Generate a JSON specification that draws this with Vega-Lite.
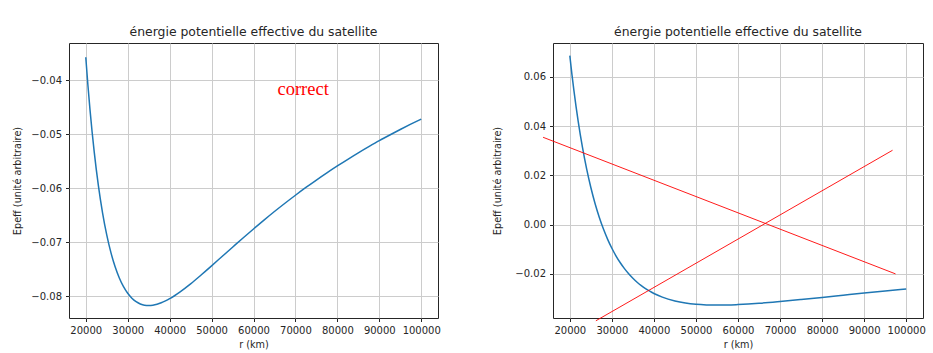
{
  "$schema": "https://vega.github.io/schema/vega-lite/v6.json",
  "background": "white",
  "padding": {"left": 12, "top": 25, "right": 5, "bottom": 0},
  "bounds": "flush",
  "spacing": 115,
  "config": {
    "font": "DejaVu Sans",
    "view": {"stroke": "#262626", "strokeWidth": 1},
    "title": {"font": "DejaVu Sans", "fontSize": 12.4, "fontWeight": "normal", "color": "#262626", "offset": 5},
    "axis": {
      "domain": false,
      "grid": true,
      "gridColor": "#cccccc",
      "gridWidth": 1,
      "tickColor": "#262626",
      "tickSize": 3.5,
      "labelFont": "DejaVu Sans",
      "labelFontSize": 10,
      "labelColor": "#262626",
      "labelPadding": 4,
      "titleFont": "DejaVu Sans",
      "titleFontSize": 9.7,
      "titleFontWeight": "normal",
      "titleColor": "#262626"
    }
  },
  "datasets": {
    "left": [
      {"r": 20000, "e": -0.03575}, {"r": 20500, "e": -0.04084}, {"r": 21000, "e": -0.04539},
      {"r": 21500, "e": -0.04949}, {"r": 22000, "e": -0.05317},
      {"r": 23000, "e": -0.05946}, {"r": 24000, "e": -0.06454}, {"r": 25000, "e": -0.06863},
      {"r": 26000, "e": -0.07191}, {"r": 27000, "e": -0.07453}, {"r": 28000, "e": -0.0766},
      {"r": 29000, "e": -0.07821}, {"r": 30000, "e": -0.07943}, {"r": 31000, "e": -0.08034},
      {"r": 32000, "e": -0.08099}, {"r": 33000, "e": -0.0814},
      {"r": 34000, "e": -0.08164}, {"r": 35000, "e": -0.0817}, {"r": 36000, "e": -0.08164},
      {"r": 37000, "e": -0.08146}, {"r": 38000, "e": -0.08119}, {"r": 39000, "e": -0.08084},
      {"r": 40000, "e": -0.08043}, {"r": 42500, "e": -0.07915}, {"r": 45000, "e": -0.07767},
      {"r": 47500, "e": -0.07604}, {"r": 50000, "e": -0.07435}, {"r": 52500, "e": -0.07262},
      {"r": 55000, "e": -0.0709}, {"r": 57500, "e": -0.06919}, {"r": 60000, "e": -0.06752},
      {"r": 62500, "e": -0.06588}, {"r": 65000, "e": -0.06429}, {"r": 67500, "e": -0.06276},
      {"r": 70000, "e": -0.06128}, {"r": 72500, "e": -0.05984}, {"r": 75000, "e": -0.05846},
      {"r": 77500, "e": -0.05713}, {"r": 80000, "e": -0.05585}, {"r": 82500, "e": -0.05462},
      {"r": 85000, "e": -0.05343}, {"r": 87500, "e": -0.05229}, {"r": 90000, "e": -0.05118},
      {"r": 92500, "e": -0.05013}, {"r": 95000, "e": -0.04911}, {"r": 97500, "e": -0.04813},
      {"r": 100000, "e": -0.04718}
    ],
    "right": [
      {"r": 20000, "e": 0.0686}, {"r": 20500, "e": 0.061}, {"r": 21000, "e": 0.05404},
      {"r": 21500, "e": 0.04766}, {"r": 22000, "e": 0.04179},
      {"r": 23000, "e": 0.03141}, {"r": 24000, "e": 0.02259}, {"r": 25000, "e": 0.01504},
      {"r": 26000, "e": 0.00857}, {"r": 27000, "e": 0.003}, {"r": 28000, "e": -0.00182},
      {"r": 29000, "e": -0.00598}, {"r": 30000, "e": -0.0096}, {"r": 31000, "e": -0.01275},
      {"r": 32000, "e": -0.01548}, {"r": 33000, "e": -0.01787},
      {"r": 34000, "e": -0.01996}, {"r": 35000, "e": -0.02178}, {"r": 36000, "e": -0.02337},
      {"r": 37000, "e": -0.02476}, {"r": 38000, "e": -0.02597}, {"r": 39000, "e": -0.02703},
      {"r": 40000, "e": -0.02795}, {"r": 42000, "e": -0.02944}, {"r": 45000, "e": -0.03099},
      {"r": 47500, "e": -0.03182}, {"r": 50000, "e": -0.03232}, {"r": 52500, "e": -0.03258},
      {"r": 55000, "e": -0.03267}, {"r": 57500, "e": -0.03263}, {"r": 60000, "e": -0.03246},
      {"r": 65000, "e": -0.03194}, {"r": 70000, "e": -0.03121}, {"r": 75000, "e": -0.0304},
      {"r": 80000, "e": -0.02954}, {"r": 85000, "e": -0.02866}, {"r": 90000, "e": -0.02779},
      {"r": 95000, "e": -0.02694}, {"r": 100000, "e": -0.02612}
    ],
    "redlines": [
      {"seg": "a", "r": 13635, "e": 0.03544}, {"seg": "a", "r": 97473, "e": -0.02},
      {"seg": "b", "r": 26198, "e": -0.03903}, {"seg": "b", "r": 96758, "e": 0.03017}
    ],
    "note": [
      {"r": 71840, "e": -0.04276, "label": "correct"}
    ]
  },
  "hconcat": [
    {
      "width": 369,
      "height": 275,
      "title": "énergie potentielle effective du satellite",
      "layer": [
        {
          "data": {"name": "left"},
          "mark": {"type": "line", "color": "#1f77b4", "strokeWidth": 1.5, "interpolate": "monotone"},
          "encoding": {
            "x": {"field": "r", "type": "quantitative", "title": "r (km)",
                  "scale": {"domain": [16000, 104000], "nice": false, "zero": false},
                  "axis": {"values": [20000, 30000, 40000, 50000, 60000, 70000, 80000, 90000, 100000], "format": "d"}},
            "y": {"field": "e", "type": "quantitative", "title": "Epeff (unité arbitraire)",
                  "scale": {"domain": [-0.084, -0.0331], "nice": false, "zero": false},
                  "axis": {"values": [-0.08, -0.07, -0.06, -0.05, -0.04], "format": ".2f", "titlePadding": 8}}
          }
        },
        {
          "data": {"name": "note"},
          "mark": {"type": "text", "font": "Liberation Serif", "fontSize": 18.5, "color": "#ff0000", "align": "center", "baseline": "alphabetic"},
          "encoding": {
            "x": {"field": "r", "type": "quantitative"},
            "y": {"field": "e", "type": "quantitative"},
            "text": {"field": "label"}
          }
        }
      ]
    },
    {
      "width": 370,
      "height": 275,
      "title": "énergie potentielle effective du satellite",
      "layer": [
        {
          "data": {"name": "right"},
          "mark": {"type": "line", "color": "#1f77b4", "strokeWidth": 1.5, "interpolate": "monotone"},
          "encoding": {
            "x": {"field": "r", "type": "quantitative", "title": "r (km)",
                  "scale": {"domain": [16000, 104000], "nice": false, "zero": false},
                  "axis": {"values": [20000, 30000, 40000, 50000, 60000, 70000, 80000, 90000, 100000], "format": "d"}},
            "y": {"field": "e", "type": "quantitative", "title": "Epeff (unité arbitraire)",
                  "scale": {"domain": [-0.0379, 0.0737], "nice": false, "zero": false},
                  "axis": {"values": [-0.02, 0, 0.02, 0.04, 0.06], "format": ".2f", "titlePadding": 12}}
          }
        },
        {
          "data": {"name": "redlines"},
          "mark": {"type": "line", "color": "#ff0000", "strokeWidth": 0.9, "clip": false},
          "encoding": {
            "x": {"field": "r", "type": "quantitative"},
            "y": {"field": "e", "type": "quantitative"},
            "detail": {"field": "seg"}
          }
        }
      ]
    }
  ]
}
